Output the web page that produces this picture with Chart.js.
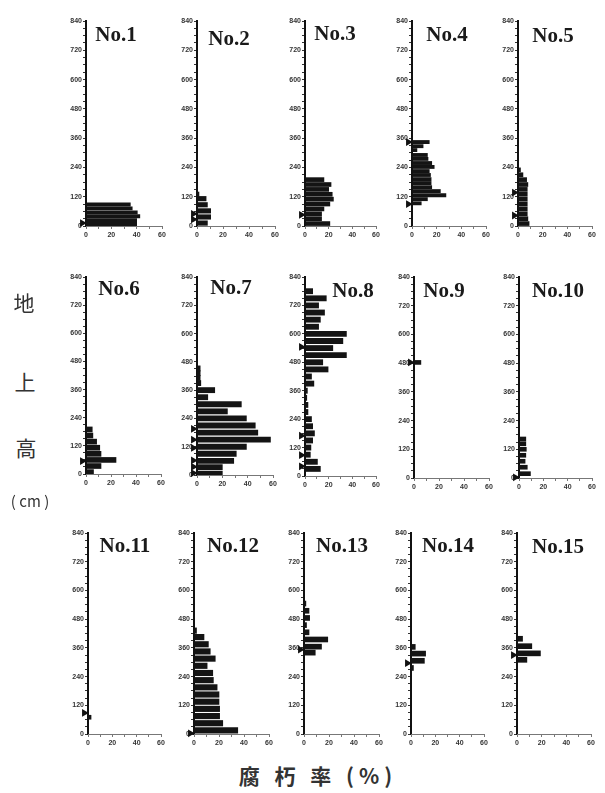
<!DOCTYPE html>
<html><head><meta charset="utf-8">
<script src="https://cdn.jsdelivr.net/npm/chart.js@4/dist/chart.umd.min.js"></script>
<style>
html,body{margin:0;padding:0;background:#fff;}
#page{position:relative;width:605px;height:793px;overflow:hidden;background:#fff;}
canvas{position:absolute;}
.ttl{position:absolute;font-family:'Liberation Serif',serif;font-weight:bold;font-size:21px;color:#1a1a1a;transform:translate(-50%,-50%);white-space:nowrap;}
.lbl{position:absolute;font-family:'Noto Sans CJK JP',sans-serif;color:#333;transform:translate(-50%,-50%);white-space:nowrap;}
</style></head><body><div id="page"></div>
<script>
// ---- data (height above ground in cm, decay rate in %) ----
const yTickLabels = [0,120,240,360,480,600,720,840];
const xTickLabels = [0,20,40,60];
const treeNames = ['No.1','No.2','No.3','No.4','No.5','No.6','No.7','No.8','No.9','No.10','No.11','No.12','No.13','No.14','No.15'];

const heights1 = [8,24,40,56,72,88];
const values1  = [40,40,42.5,40.5,36.5,35];
const arrows1  = [12];

const heights2 = [12,37,62,87,112,130];
const values2  = [8,10.5,10.5,8,7,1.5];
const arrows2  = [27,50];

const heights3 = [10,30,50,70,90,110,130,150,170,190];
const values3  = [21,14,14,16,21,24,23,20,22,16];
const arrows3  = [46];

const heights4 = [93,110,126,143,159,176,192,209,225,242,258,275,291,311,327,344];
const values4  = [7.5,12.5,27.5,23,16,15.5,15.5,15,14,18,16,13,12.5,4,9,14];
const arrows4  = [90,344];

const heights5 = [10,30,50,70,90,110,130,150,170,190,210,230];
const values5  = [9,8,7.5,7.5,7.5,7.5,7.5,7.5,8,7,4,2];
const arrows5  = [43,137];

const heights6 = [8,34,60,86,112,138,164,190];
const values6  = [6,12,24,12,11,8.5,5.5,5];
const arrows6  = [55];

const heights7 = [5,33,60,90,120,150,180,210,240,270,300,330,360,390,412,432,452];
const values7  = [20,20,29,31,39,58,48,46,39,24,35,8.5,14,3,2.5,2.5,2.5];
const arrows7  = [8,35,62,115,150,196];

const heights8 = [30,60,90,120,150,180,210,240,270,300,330,360,390,420,450,480,510,540,570,600,630,660,690,720,750,780];
const values8  = [13,10.5,4.5,5,6.5,8,6.5,5.5,2.5,2.5,1.5,2,7.5,5.5,19.5,15,35,23.5,32,35,11.5,13,16.5,11.5,18,6.5];
const arrows8  = [41,88,170,545];

const heights9 = [483];
const values9  = [5.5];
const arrows9  = [483];

const heights10 = [18,45,70,95,120,143,163];
const values10  = [9.4,6.8,5,5.6,6,5.6,5.6];
const arrows10  = [3];

const heights11 = [70];
const values11  = [2.5];
const arrows11  = [88];

const heights12 = [15,45,75,105,135,165,195,225,255,285,315,345,375,405,432];
const values12  = [35,23,20.5,20.5,20,20,18.5,15.5,15,10.5,17,13,11.5,8,2];
const arrows12  = [3];

const heights13 = [340,365,395,425,455,485,515,545];
const values13  = [9,14,19,4,2,4.5,4,1.5];
const arrows13  = [353];

const heights14 = [276,306,336,364];
const values14  = [2,11,12,3.5];
const arrows14  = [296];

const heights15 = [310,337,367,398];
const values15  = [8,19,12,4.5];
const arrows15  = [330];

const allHeights = [heights1,heights2,heights3,heights4,heights5,heights6,heights7,heights8,heights9,heights10,heights11,heights12,heights13,heights14,heights15];
const allValues  = [values1,values2,values3,values4,values5,values6,values7,values8,values9,values10,values11,values12,values13,values14,values15];
const allArrows  = [arrows1,arrows2,arrows3,arrows4,arrows5,arrows6,arrows7,arrows8,arrows9,arrows10,arrows11,arrows12,arrows13,arrows14,arrows15];

// ---- layout (pixels) ----
// [axisX, plotTop, plotBottom, plotWidth, barThickness, titleX, titleY]
const layoutBoxes = [
  [86,15,226,82,3.2,116,34],[197,15,226,84,4.5,229,38],[305,15,226,77,4,335,33],[412,15,226,80,3.2,447,34],[518,15,226,80,4,553,35],
  [86,271,474,81,5,119,288],[197,271,475,82,5.2,231,287],[305,271,476,77,5.2,353,290],[414,271,478,81,4,444,290],[519,271,478,79,4,558,290],
  [88,527,734,79,4,125,545],[194,527,734,81,5.5,233,545],[304,527,734,81,5,342,545],[411,527,734,79,5,448,545],[517,527,734,80,5,558,546]
];

const page = document.getElementById('page');
const LEFT = 24, TOPPAD = 8, RIGHTPAD = 8, BOTTOM = 20, ARROW_R = 4.5;

layoutBoxes.forEach((b, i) => {
  const [ax, top, bot, pw, thick, tx, ty] = b;
  const cv = document.createElement('canvas');
  const W = LEFT + pw + RIGHTPAD, H = TOPPAD + (bot - top) + BOTTOM;
  cv.width = W; cv.height = H;
  cv.style.left = (ax - LEFT) + 'px';
  cv.style.top = (top - TOPPAD) + 'px';
  cv.style.width = W + 'px'; cv.style.height = H + 'px';
  page.appendChild(cv);

  const pxPerUnit = pw / 60;
  const bars = allHeights[i].map((h, k) => ({x: allValues[i][k], y: h}));
  const arrows = allArrows[i].map(h => ({x: -(ARROW_R - 0.5) / pxPerUnit, y: h}));

  new Chart(cv, {
    type: 'bar',
    data: {
      datasets: [
        {type: 'bar', data: bars, backgroundColor: '#141414', borderWidth: 0, barThickness: thick},
        {type: 'scatter', data: arrows, pointStyle: 'triangle', pointRotation: 90,
         pointRadius: ARROW_R, pointHoverRadius: 14, pointBackgroundColor: '#111',
         pointBorderColor: '#111', pointBorderWidth: 0, showLine: false, clip: false}
      ]
    },
    options: {
      indexAxis: 'y',
      responsive: false,
      animation: false,
      events: [],
      layout: {padding: {top: TOPPAD, right: RIGHTPAD, left: 0, bottom: 0}},
      plugins: {legend: {display: false}, tooltip: {enabled: false}},
      scales: {
        y: {
          type: 'linear', min: 0, max: 840, offset: false,
          ticks: {stepSize: 30, autoSkip: false, padding: 1,
                  callback: v => yTickLabels.includes(v) ? String(v) : '',
                  font: {family: 'Liberation Sans', size: 7, weight: 'bold'}, color: '#333'},
          grid: {drawOnChartArea: false, tickLength: 3, color: '#333', offset: false},
          border: {color: '#111', width: 2},
          afterFit: s => { s.width = LEFT; }
        },
        x: {
          type: 'linear', min: 0, max: 60,
          ticks: {stepSize: 10, autoSkip: false, maxRotation: 0, padding: 2,
                  callback: v => xTickLabels.includes(v) ? String(v) : '',
                  font: {family: 'Liberation Sans', size: 7, weight: 'bold'}, color: '#333'},
          grid: {drawOnChartArea: false, tickLength: 3, color: '#777'},
          border: {color: '#777', width: 1},
          afterFit: s => { s.height = BOTTOM; }
        }
      }
    }
  });

  const t = document.createElement('div');
  t.className = 'ttl';
  t.textContent = treeNames[i];
  t.style.left = tx + 'px'; t.style.top = ty + 'px';
  page.appendChild(t);
});

// axis titles
const yTitle = [['地',24,302,21],['上',25,381,21],['高',26,447,21],['( cm )',30,500,15]];
yTitle.forEach(([s,x,y,f]) => {
  const d = document.createElement('div');
  d.className = 'lbl'; d.textContent = s;
  d.style.left = x + 'px'; d.style.top = y + 'px'; d.style.fontSize = f + 'px';
  page.appendChild(d);
});
const xt = document.createElement('div');
xt.className = 'lbl'; xt.textContent = '腐 朽 率 (%)';
xt.style.left = '318px'; xt.style.top = '775px'; xt.style.fontSize = '21px';
xt.style.fontWeight = 'bold'; xt.style.letterSpacing = '5px';
page.appendChild(xt);
</script>
</body></html>
